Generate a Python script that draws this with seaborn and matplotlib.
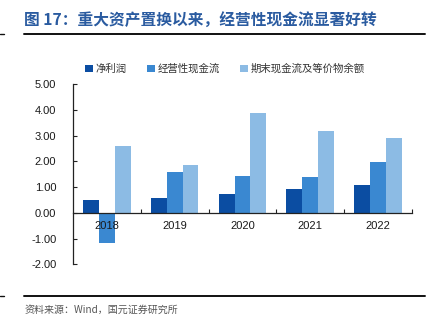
import matplotlib
matplotlib.use("Agg")
import matplotlib.pyplot as plt
from matplotlib.lines import Line2D
from matplotlib.patches import Patch
import pandas as pd
import seaborn as sns

# 数据（亿元）
years = ["2018", "2019", "2020", "2021", "2022"]
net_profit = [0.49, 0.57, 0.74, 0.93, 1.10]
op_cash = [-1.15, 1.58, 1.45, 1.38, 1.97]
end_cash = [2.61, 1.84, 3.88, 3.19, 2.90]
series_names = ["净利润", "经营性现金流", "期末现金流及等价物余额"]
colors = ["#0B4DA2", "#3A88D1", "#8CBBE4"]
y_ticks = [-2, -1, 0, 1, 2, 3, 4, 5]

title = "图 17：重大资产置换以来，经营性现金流显著好转"
source = "资料来源：Wind，国元证券研究所"

sns.set_theme(style="white")
plt.rcParams["font.family"] = ["Liberation Sans", "Noto Sans CJK SC"]
cjk = ["Noto Sans CJK SC", "DejaVu Sans"]

df = pd.DataFrame({
    "year": years * 3,
    "value": net_profit + op_cash + end_cash,
    "series": [series_names[0]] * 5 + [series_names[1]] * 5 + [series_names[2]] * 5,
})

fig = plt.figure(figsize=(4.4, 3.28), dpi=100)
ax = fig.add_axes([0.166, 0.1936, 0.770, 0.5504])

sns.barplot(data=df, x="year", y="value", hue="series", hue_order=series_names,
            palette=colors, width=0.7, saturation=1, ax=ax, legend=False,
            linewidth=0)

ax.set_xlim(-0.5, 4.5)
ax.set_ylim(-2, 5)
ax.set_yticks(y_ticks)
ax.set_yticklabels([f"{v:.2f}" for v in y_ticks], fontsize=8, color="#1a1a1a")
ax.set_xlabel("")
ax.set_ylabel("")
# 坐标轴与年份标签画在柱子之上
ax.set_axisbelow(False)

for s in ["top", "right"]:
    ax.spines[s].set_visible(False)
ax.spines["left"].set_color("#222222")
ax.spines["left"].set_linewidth(0.9)
ax.spines["bottom"].set_color("#222222")
ax.spines["bottom"].set_linewidth(0.9)
ax.spines["bottom"].set_position(("data", 0))

ax.tick_params(axis="y", direction="in", length=3, width=0.8, color="#222222",
               pad=12, left=True)
ax.tick_params(axis="x", which="major", length=0, pad=6, labelsize=8,
               labelcolor="#1a1a1a")
ax.set_xticks([0.5, 1.5, 2.5, 3.5, 4.5], minor=True)
ax.tick_params(axis="x", which="minor", direction="in", length=3, width=0.8,
               color="#222222", bottom=True)
ax.grid(False)

handles = [Patch(facecolor=c, edgecolor="none") for c in colors]
leg = ax.legend(handles, series_names, loc="lower left",
                bbox_to_anchor=(0.035, 1.055), ncol=3, frameon=False,
                handlelength=0.75, handleheight=0.75, handletextpad=0.3,
                columnspacing=1.9, borderaxespad=0, borderpad=0,
                prop={"family": cjk, "size": 7.5})
for t in leg.get_texts():
    t.set_color("#333333")

# 标题与上下分隔线
fig.text(24 / 440, 1 - 20 / 328, title, ha="left", va="center",
         fontsize=11.3, fontweight="bold", color="#2A5BA0", family=cjk)
fig.add_artist(Line2D([24 / 440, 425 / 440], [1 - 33.5 / 328] * 2,
                      color="#111111", lw=1.4))
fig.add_artist(Line2D([0, 4 / 440], [1 - 33.5 / 328] * 2,
                      color="#111111", lw=1.0))
fig.add_artist(Line2D([24 / 440, 425 / 440], [1 - 295.5 / 328] * 2,
                      color="#111111", lw=1.4))
fig.add_artist(Line2D([0, 4 / 440], [1 - 295.5 / 328] * 2,
                      color="#111111", lw=1.0))
fig.text(25 / 440, 1 - 310 / 328, source, ha="left", va="center",
         fontsize=7.2, color="#555555", family=cjk)

fig.savefig("out.png", dpi=100)
